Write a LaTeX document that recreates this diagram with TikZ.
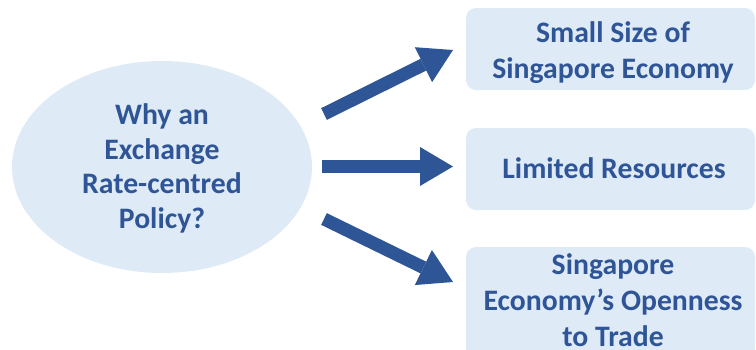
\documentclass[tikz,border=0pt]{standalone}
\usepackage{fontspec}
\setmainfont{Carlito}
\usetikzlibrary{shapes.geometric,arrows.meta}
\definecolor{txtblue}{HTML}{2F5597}
\definecolor{arrblue}{HTML}{2E5596}
\definecolor{lightfill}{HTML}{DEEBF7}
\tikzset{
  lbl/.style={text=txtblue, font=\bfseries\fontsize{29.7}{36}\selectfont, align=center, inner sep=0pt},
  lblx/.style={lbl, font=\bfseries\fontsize{29.7}{34.5}\selectfont},
  bubble/.style={ellipse, fill=lightfill, minimum width=300pt, minimum height=212pt, inner sep=0pt},
  reason/.style={rectangle, rounded corners=10pt, fill=lightfill, minimum width=289pt, inner sep=0pt},
  bigarrow/.style={draw=arrblue, line width=13pt, line cap=butt, line join=miter,
    -{Triangle[length=33pt,width=39pt,fill=arrblue,line width=0pt]}},
}
\begin{document}
\begin{tikzpicture}[x=1pt,y=-1pt]
\useasboundingbox (0,0) rectangle (756,349);
\begin{scope}
\clip (0,0) rectangle (756,349);
\node[bubble] (why) at (162,167) {};
\node[reason, minimum height=82pt] (small) at (610.5,49) {};
\node[reason, minimum height=82pt] (limited) at (610.5,169) {};
\node[reason, minimum height=112pt] (open) at (610.5,303) {};
\end{scope}
\node[lblx] (whytxt) at (162,168.5) {Why an\\Exchange\\Rate-centred\\Policy?};
\node[lbl] (smalltxt) at (613,53) {Small Size of\\Singapore Economy};
\node[lbl] (limitedtxt) at (614,168) {Limited Resources};
\node[lbl] (opentxt) at (613,300.3) {Singapore\\Economy’s Openness\\to Trade};
\coordinate (t1) at (324,114);
\coordinate (h1) at (453,50);
\coordinate (t2) at (322,166.5);
\coordinate (h2) at (453,166.5);
\coordinate (t3) at (324,219);
\coordinate (h3) at (453,282);
\draw[bigarrow] (t1) -- (h1);
\draw[bigarrow] (t2) -- (h2);
\draw[bigarrow] (t3) -- (h3);
\end{tikzpicture}
\end{document}
